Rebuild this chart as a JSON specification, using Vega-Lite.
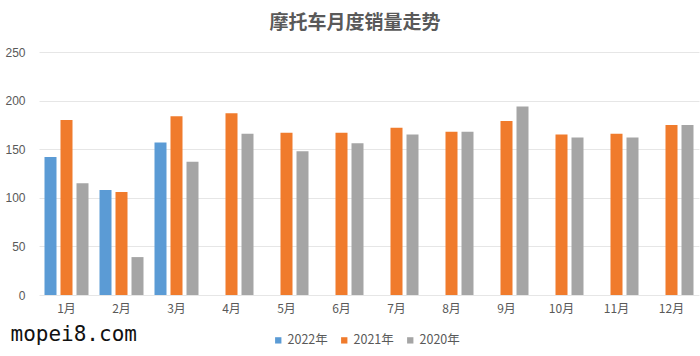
{
  "$schema": "https://vega.github.io/schema/vega-lite/v6.json",
  "autosize": {"type": "none"},
  "width": 660,
  "height": 243,
  "padding": {"left": 39, "top": 52, "right": 1, "bottom": 61},
  "background": "white",
  "title": {
    "text": "摩托车月度销量走势",
    "font": "Noto Sans CJK SC",
    "fontSize": 19,
    "fontWeight": "bold",
    "color": "#595959",
    "anchor": "middle",
    "dx": -14,
    "offset": 13
  },
  "data": {
    "values": [
      {"month": "1月", "year": "2022年", "value": 142},
      {"month": "2月", "year": "2022年", "value": 108},
      {"month": "3月", "year": "2022年", "value": 157},
      {"month": "1月", "year": "2021年", "value": 180},
      {"month": "2月", "year": "2021年", "value": 106},
      {"month": "3月", "year": "2021年", "value": 184},
      {"month": "4月", "year": "2021年", "value": 187},
      {"month": "5月", "year": "2021年", "value": 167},
      {"month": "6月", "year": "2021年", "value": 167},
      {"month": "7月", "year": "2021年", "value": 172},
      {"month": "8月", "year": "2021年", "value": 168},
      {"month": "9月", "year": "2021年", "value": 179},
      {"month": "10月", "year": "2021年", "value": 165},
      {"month": "11月", "year": "2021年", "value": 166},
      {"month": "12月", "year": "2021年", "value": 175},
      {"month": "1月", "year": "2020年", "value": 115},
      {"month": "2月", "year": "2020年", "value": 39},
      {"month": "3月", "year": "2020年", "value": 137},
      {"month": "4月", "year": "2020年", "value": 166},
      {"month": "5月", "year": "2020年", "value": 148},
      {"month": "6月", "year": "2020年", "value": 156},
      {"month": "7月", "year": "2020年", "value": 165},
      {"month": "8月", "year": "2020年", "value": 168},
      {"month": "9月", "year": "2020年", "value": 194},
      {"month": "10月", "year": "2020年", "value": 162},
      {"month": "11月", "year": "2020年", "value": 162},
      {"month": "12月", "year": "2020年", "value": 175}
    ]
  },
  "mark": {"type": "bar"},
  "encoding": {
    "x": {
      "field": "month",
      "type": "nominal",
      "sort": ["1月","2月","3月","4月","5月","6月","7月","8月","9月","10月","11月","12月"],
      "scale": {"paddingInner": 0.2, "paddingOuter": 0.1},
      "axis": {
        "title": "mopei8.com",
        "titleFont": "DejaVu Sans Mono",
        "titleFontSize": 21,
        "titleFontWeight": "normal",
        "titleColor": "#111111",
        "titleAnchor": "start",
        "titleAlign": "left",
        "titleBaseline": "alphabetic",
        "titleX": -29,
        "titleY": 45,
        "labelAngle": 0,
        "labelFont": "Noto Sans CJK SC",
        "labelFontSize": 12,
        "labelColor": "#595959",
        "labelPadding": 8,
        "ticks": false,
        "domain": false,
        "grid": false
      }
    },
    "xOffset": {
      "field": "year",
      "type": "nominal",
      "scale": {"domain": ["2022年", "2021年", "2020年"], "paddingInner": 0.25, "paddingOuter": 0}
    },
    "y": {
      "field": "value",
      "type": "quantitative",
      "scale": {"domain": [0, 250], "nice": false},
      "axis": {
        "title": null,
        "values": [0, 50, 100, 150, 200, 250],
        "labelFont": "Liberation Sans",
        "labelFontSize": 12,
        "labelColor": "#595959",
        "labelPadding": 14,
        "ticks": false,
        "domain": false,
        "grid": true,
        "gridColor": "#E6E6E6",
        "gridWidth": 1
      }
    },
    "color": {
      "field": "year",
      "type": "nominal",
      "scale": {"domain": ["2022年", "2021年", "2020年"], "range": ["#5B9BD5", "#F07B2C", "#A5A5A5"]},
      "legend": {
        "title": null,
        "orient": "none",
        "direction": "horizontal",
        "legendX": 233,
        "legendY": 282,
        "symbolType": "square",
        "symbolSize": 40,
        "symbolStrokeWidth": 0,
        "labelFont": "Noto Sans CJK SC",
        "labelFontSize": 12.5,
        "labelColor": "#595959",
        "labelOffset": 3,
        "columnPadding": 10
      }
    }
  },
  "config": {"view": {"stroke": null}}
}
